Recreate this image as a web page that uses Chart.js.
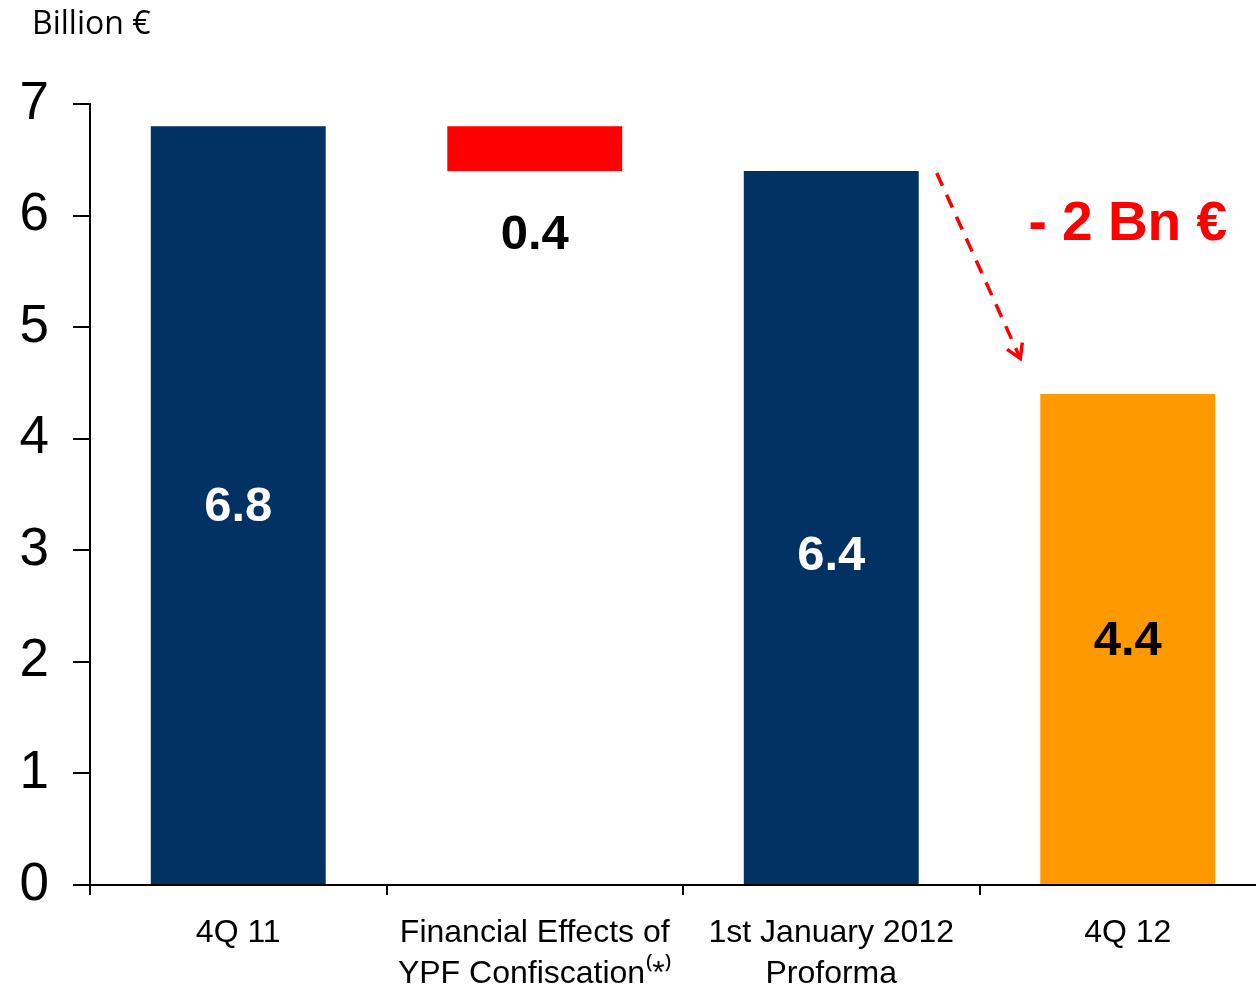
<!DOCTYPE html>
<html lang="en">
<head>
  <meta charset="UTF-8">
  <title>Net debt</title>
  <script src="https://cdn.jsdelivr.net/npm/chart.js"></script>
  <style>
    html, body { margin: 0; padding: 0; background: #fff; overflow: hidden; }
    .chart-container { position: relative; width: 1276px; height: 990px; }
    .unit {
      position: absolute; left: 32px; top: 0px;
      font-family: "Open Sans", sans-serif; font-size: 32px; color: #000;
    }
  </style>
</head>
<body>
  <div class="chart-container">
    <canvas id="myChart"></canvas>
    <div class="unit">Billion €</div>
  </div>

  <script>
    // --- data ---
    const categories = [
      '4Q 11',
      ['Financial Effects of', 'YPF Confiscation\u207D*\u207E'],
      ['1st January 2012', 'Proforma'],
      '4Q 12'
    ];
    const barStart = [0, 6.4, 0, 0];
    const barEnd = [6.8, 6.8, 6.4, 4.4];
    const valueLabels = ['6.8', '0.4', '6.4', '4.4'];
    const barColors = ['#023263', '#FF0000', '#023263', '#FF9900'];
    const labelColors = ['#FFFFFF', '#000000', '#FFFFFF', '#000000'];
    const yTicks = [0, 1, 2, 3, 4, 5, 6, 7];
    const deltaText = '- 2 Bn €';

    const ctx = document.getElementById('myChart').getContext('2d');

    // value labels, arrow and "- 2 Bn €" annotation
    const annotations = {
      id: 'annotations',
      afterDatasetsDraw(chart) {
        const c = chart.ctx;
        const meta = chart.getDatasetMeta(0);
        const y = chart.scales.y;
        c.save();
        c.textAlign = 'center';
        c.textBaseline = 'middle';
        c.font = 'bold 49px "Liberation Sans", Arial, sans-serif';
        meta.data.forEach((bar, i) => {
          let ly;
          if (i === 1) {
            ly = y.getPixelForValue(barStart[i]) + 65;   // below the floating bar
          } else {
            ly = (y.getPixelForValue(barStart[i]) + y.getPixelForValue(barEnd[i])) / 2 + 2;
            if (i === 2) ly += 27;
          }
          c.fillStyle = labelColors[i];
          c.fillText(valueLabels[i], bar.x, ly);
        });

        // dashed arrow from bar 3 top to bar 4
        const b3 = meta.data[2], b4 = meta.data[3];
        const x0 = b3.x + b3.width / 2 + 18, y0 = y.getPixelForValue(barEnd[2]) + 2;
        const x1 = b4.x - b4.width / 2 - 20, y1 = y.getPixelForValue(4.72);
        c.strokeStyle = '#FF0000';
        c.lineWidth = 3.5;
        c.setLineDash([14, 10]);
        c.beginPath();
        c.moveTo(x0, y0);
        c.lineTo(x1, y1);
        c.stroke();
        c.setLineDash([]);
        const ang = Math.atan2(y1 - y0, x1 - x0);
        const hl = 16;
        c.beginPath();
        c.moveTo(x1 - hl * Math.cos(ang - 0.55), y1 - hl * Math.sin(ang - 0.55));
        c.lineTo(x1, y1);
        c.lineTo(x1 - hl * Math.cos(ang + 0.55), y1 - hl * Math.sin(ang + 0.55));
        c.stroke();

        c.fillStyle = '#FF0000';
        c.font = 'bold 55px "Liberation Sans", Arial, sans-serif';
        c.fillText(deltaText, b4.x, y.getPixelForValue(5.92));
        c.restore();
      }
    };

    new Chart(ctx, {
      type: 'bar',
      data: {
        labels: categories,
        datasets: [{
          data: barStart.map((s, i) => [s, barEnd[i]]),
          backgroundColor: barColors,
          borderWidth: 0,
          barPercentage: 0.59,
          categoryPercentage: 1
        }]
      },
      options: {
        responsive: true,
        maintainAspectRatio: false,
        animation: false,
        layout: { padding: { top: 104, right: 0, bottom: 0, left: 0 } },
        plugins: { legend: { display: false }, tooltip: { enabled: false } },
        scales: {
          x: {
            offset: true,
            grid: {
              offset: true, drawOnChartArea: false, drawTicks: true,
              tickLength: 10, color: '#000', lineWidth: 2
            },
            border: { color: '#000', width: 2 },
            ticks: {
              color: '#000', maxRotation: 0, autoSkip: false, padding: 18,
              font: { family: '"Liberation Sans", Arial, sans-serif', size: 32, lineHeight: 1.28 }
            },
            afterFit(scale) { scale.height = 105; }
          },
          y: {
            min: 0, max: 7,
            afterBuildTicks(scale) { scale.ticks = yTicks.map(v => ({ value: v })); },
            grid: {
              drawOnChartArea: false, drawTicks: true,
              tickLength: 17, color: '#000', lineWidth: 2
            },
            border: { color: '#000', width: 2 },
            ticks: {
              color: '#000', padding: 24,
              font: { family: '"Liberation Sans", Arial, sans-serif', size: 53 }
            },
            afterFit(scale) { scale.width = 90; }
          }
        }
      },
      plugins: [annotations]
    });
  </script>
</body>
</html>
